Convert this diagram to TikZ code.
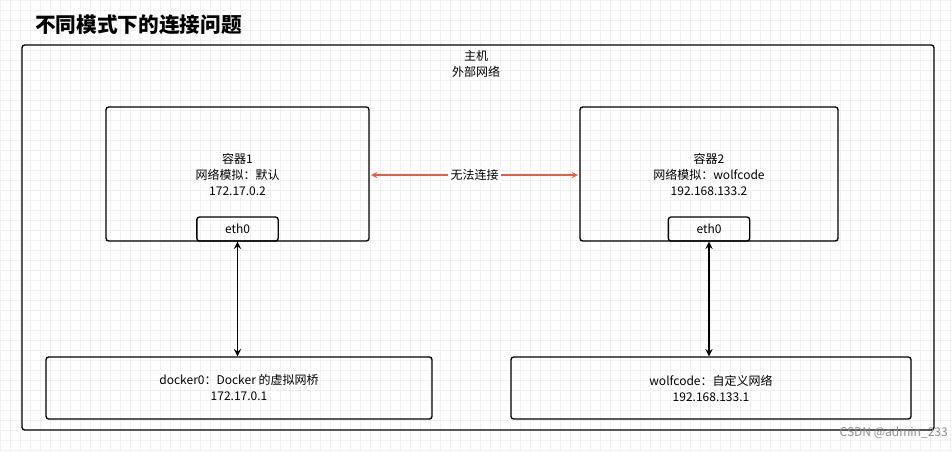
\documentclass[tikz,border=0pt]{standalone}
\usepackage{fontspec}
\setmainfont{Noto Sans CJK SC}
\begin{document}
\begin{tikzpicture}[x=0.75pt,y=-0.75pt,
  box/.style={draw=black,line width=1pt,rounded corners=2pt},
  lbl/.style={font=\fontsize{9}{12}\selectfont,align=center,inner sep=0pt},
  arr/.style={line width=1.1pt,<->,>=stealth}]
\useasboundingbox (0,0) rectangle (952,451);
\fill[white] (0,0) rectangle (952,451);
\draw[black!6,line width=0.4pt,step=7.5pt] (0,0) grid (952,451);
\node[anchor=west,font=\bfseries\fontsize{15.5}{17}\selectfont,inner sep=0pt] (title) at (35,25) {不同模式下的连接问题};
\draw[box] (22,45) rectangle (934,430);
\node[lbl] (host) at (476,64) {主机\\外部网络};
\draw[box] (106,107) rectangle (369,241);
\node[draw,box,minimum width=61pt,minimum height=18pt] (e1) at (237.5,229) {};
\node[lbl] at (e1) {eth0};
\node[lbl] (c1) at (237.5,174) {容器1\\网络模拟：默认\\172.17.0.2};
\draw[box] (580,107) rectangle (838,241);
\node[draw,box,minimum width=61pt,minimum height=18pt] (e2) at (709,229) {};
\node[lbl] at (e2) {eth0};
\node[lbl] (c2) at (709,174) {容器2\\网络模拟：wolfcode\\192.168.133.2};
\coordinate (l) at (371,175); \coordinate (r) at (578,175);
\draw[arr,draw={rgb,255:red,234;green,90;blue,70}] (l) -- node[fill=white,lbl,inner sep=2pt] (t) {无法连接} (r);
\node[box,minimum width=289.5pt,minimum height=46.5pt] (b1) at (239,388) {};
\node[lbl] at (b1) {docker0：Docker 的虚拟网桥\\172.17.0.1};
\node[box,minimum width=300pt,minimum height=46.5pt] (b2) at (711,388) {};
\node[lbl] at (b2) {wolfcode：自定义网络\\192.168.133.1};
\draw[arr,line width=1.4pt] (e1.south) -- (b1.north -| e1.south);
\draw[arr,line width=1.4pt] (e2.south) -- (b2.north -| e2.south);
\node[anchor=east,text=black!45,font=\fontsize{9}{10}\selectfont,inner sep=0pt] (wm) at (948,433) {CSDN @admin\_233};
\end{tikzpicture}
\end{document}
